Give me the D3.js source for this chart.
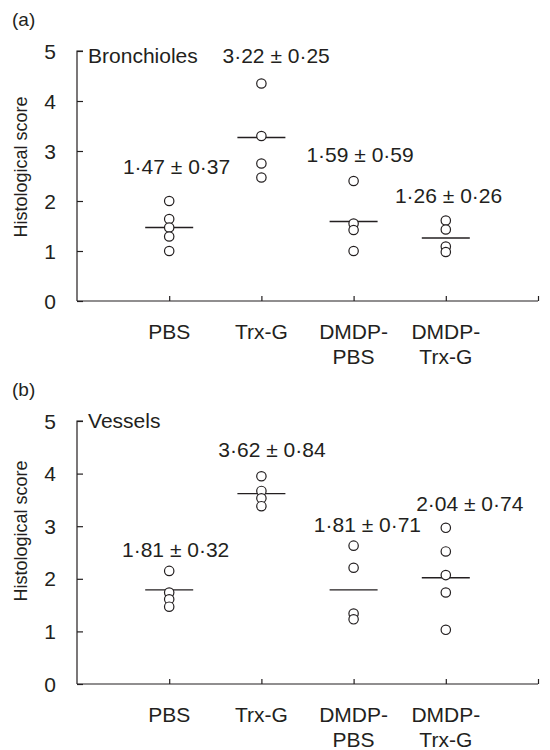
<!DOCTYPE html>
<html>
<head>
<meta charset="utf-8">
<script src="https://cdn.jsdelivr.net/npm/d3@7"></script>
<style>
  body { margin: 0; background: #fff; }
  text { font-family: "Liberation Sans", Arial, Helvetica, sans-serif; fill: #231f20; }
</style>
</head>
<body>
<div id="visualization"></div>
<script>
// group names (two-line labels under the x axis)
const groups = [["PBS"], ["Trx-G"], ["DMDP-", "PBS"], ["DMDP-", "Trx-G"]];
const yTicks = [0, 1, 2, 3, 4, 5];

// panel (a) bronchioles: individual scores per group
const bronchPBS = [2.0, 1.64, 1.47, 1.29, 1.0];
const bronchTrx = [4.35, 3.3, 2.75, 2.47];
const bronchDmdpPBS = [2.4, 1.55, 1.42, 1.0];
const bronchDmdpTrx = [1.61, 1.43, 1.09, 0.98];
const bronchMeans = [1.47, 3.27, 1.59, 1.26];
const bronchLabels = ["1·47 ± 0·37", "3·22 ± 0·25", "1·59 ± 0·59", "1·26 ± 0·26"];
const bronchLabelX = [1.08, 2.16, 3.07, 4.03];   // in x-axis units
const bronchLabelY = [2.54, 4.77, 2.79, 1.97];   // in score units

// panel (b) vessels
const vesPBS = [2.15, 1.74, 1.61, 1.47];
const vesTrx = [3.95, 3.67, 3.53, 3.38];
const vesDmdpPBS = [2.63, 2.21, 1.34, 1.23];
const vesDmdpTrx = [2.97, 2.52, 2.07, 1.74, 1.03];
const vesMeans = [1.79, 3.62, 1.79, 2.02];
const vesLabels = ["1·81 ± 0·32", "3·62 ± 0·84", "1·81 ± 0·71", "2·04 ± 0·74"];
const vesLabelX = [1.07, 2.115, 3.15, 4.26];
const vesLabelY = [2.41, 4.31, 2.89, 3.28];

function main(){
    let width = 550, height = 750;

    let svg = d3.select(document.getElementById('visualization'))
        .append('svg')
        .attr('width', width)
        .attr('height', height);

    //both panels share the same x scale, groups sit at 1..4
    let x = d3.scaleLinear().domain([0, 5]).range([77, 538]);

    drawPanel(svg, x, {
        tag: "(a)", name: "Bronchioles", nameY: 4.77, top: 51, bottom: 301, titleY: 167,
        points: [bronchPBS, bronchTrx, bronchDmdpPBS, bronchDmdpTrx],
        means: bronchMeans, labels: bronchLabels, labelX: bronchLabelX, labelY: bronchLabelY
    });

    drawPanel(svg, x, {
        tag: "(b)", name: "Vessels", nameY: 4.86, top: 421, bottom: 684, titleY: 531,
        points: [vesPBS, vesTrx, vesDmdpPBS, vesDmdpTrx],
        means: vesMeans, labels: vesLabels, labelX: vesLabelX, labelY: vesLabelY
    });
}

function drawPanel(svg, x, p){
    let y = d3.scaleLinear().domain([0, 5]).range([p.bottom, p.top]);
    let g = svg.append('g');

    // y axis, ticks point inward
    let yAxis = g.append('g')
        .attr('transform', `translate(${x(0)},0)`)
        .call(d3.axisRight(y).tickValues(yTicks).tickSize(6).tickFormat(''));
    yAxis.select('.domain').attr('d', `M6,${y(5)}H0V${y(0)}`);

    g.selectAll('.ytl')
        .data(yTicks)
        .enter()
        .append('text')
            .attr('x', 56)
            .attr('y', (d) => y(d) + 7.5)
            .attr('text-anchor', 'end')
            .attr('font-size', '21px')
            .text((d) => d);

    // x axis, inward ticks at the groups and at the right end
    let xAxis = g.append('g')
        .attr('transform', `translate(0,${y(0)})`)
        .call(d3.axisTop(x).tickValues([1, 2, 3, 4, 5]).tickSize(5).tickFormat(''));
    xAxis.select('.domain').attr('d', `M${x(0)},0H${x(5)}`);

    svg.selectAll('.domain, .tick line').attr('stroke', '#231f20').attr('stroke-width', 1.2);

    // group labels
    groups.forEach((lines, i) => {
        g.append('text')
            .attr('x', x(i + 1))
            .attr('y', y(0) + 38)
            .attr('text-anchor', 'middle')
            .attr('font-size', '21px')
            .selectAll('tspan')
            .data(lines)
            .enter()
            .append('tspan')
                .attr('x', x(i + 1))
                .attr('dy', (d, j) => j === 0 ? 0 : 25)
                .text((d) => d);
    });

    // mean lines
    g.selectAll('.mean')
        .data(p.means)
        .enter()
        .append('line')
            .attr('x1', (d, i) => x(i + 1) - 24)
            .attr('x2', (d, i) => x(i + 1) + 24)
            .attr('y1', (d) => y(d))
            .attr('y2', (d) => y(d))
            .attr('stroke', '#231f20')
            .attr('stroke-width', 1.3);

    // individual scores
    let pts = [];
    p.points.forEach((arr, i) => arr.forEach((v) => pts.push({i: i, v: v})));
    g.selectAll('circle')
        .data(pts)
        .enter()
        .append('circle')
            .attr('cx', (d) => x(d.i + 1))
            .attr('cy', (d) => y(d.v))
            .attr('r', 4.7)
            .attr('fill', 'white')
            .attr('stroke', '#231f20')
            .attr('stroke-width', 1.2);

    // mean ± sd labels
    g.selectAll('.lab')
        .data(p.labels)
        .enter()
        .append('text')
            .attr('x', (d, i) => x(p.labelX[i]))
            .attr('y', (d, i) => y(p.labelY[i]))
            .attr('text-anchor', 'middle')
            .attr('font-size', '21px')
            .text((d) => d);

    g.append('text')
        .attr('x', x(0.12))
        .attr('y', y(p.nameY))
        .attr('font-size', '21px')
        .text(p.name);

    g.append('text')
        .attr('x', 12)
        .attr('y', p.top - 25)
        .attr('font-size', '19px')
        .text(p.tag);

    g.append('text')
        .attr('transform', `translate(27,${p.titleY}) rotate(-90)`)
        .attr('text-anchor', 'middle')
        .attr('font-size', '18px')
        .text('Histological score');
}

window.onload = () => {
    main();
}
</script>
</body>
</html>
